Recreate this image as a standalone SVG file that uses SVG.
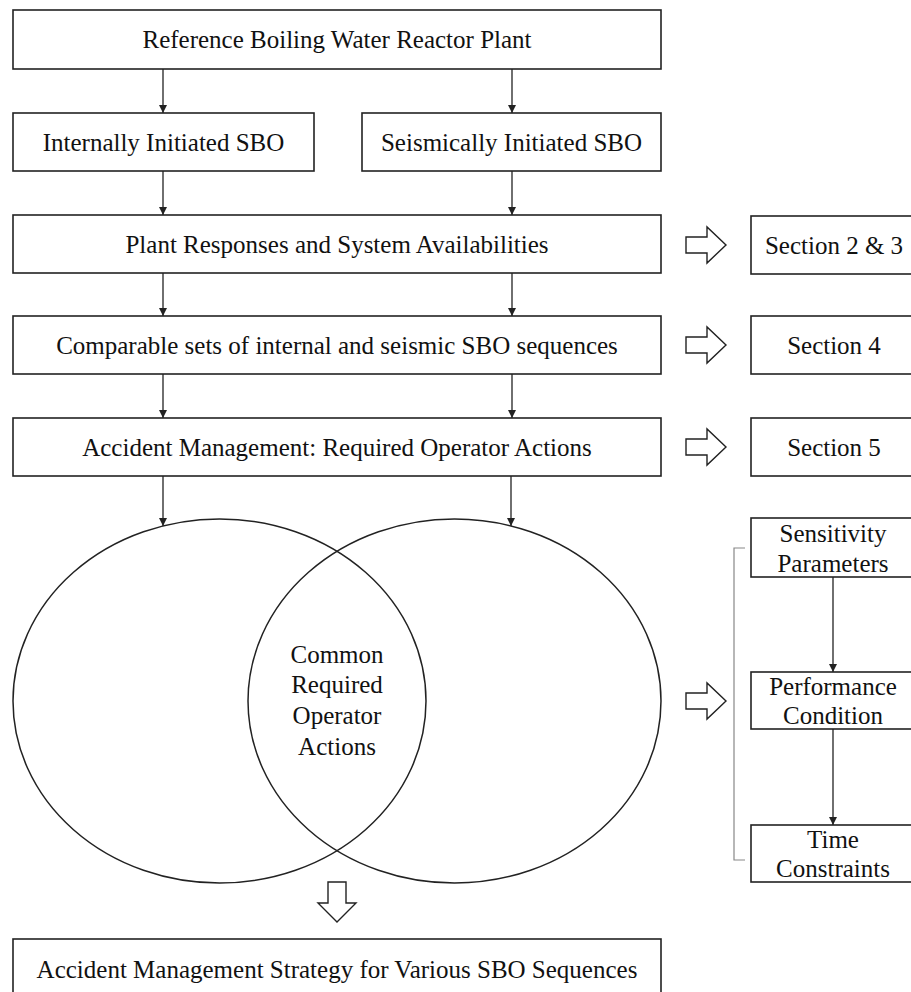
<svg xmlns="http://www.w3.org/2000/svg" width="911" height="992" viewBox="0 0 911 992">
<defs>
<style>
.box{fill:#fff;stroke:#222;stroke-width:1.6}
.t{font-family:'Liberation Serif','Tinos','DejaVu Serif',serif;font-size:25px;fill:#111;text-anchor:middle}
.ln{stroke:#222;stroke-width:1.3;fill:none}
.hol{fill:#fff;stroke:#222;stroke-width:1.4;stroke-linejoin:miter}
.ell{fill:none;stroke:#222;stroke-width:1.5}
.br{fill:none;stroke:#888;stroke-width:1.2}
</style>
<marker id="ah" markerWidth="10" markerHeight="10" refX="8" refY="4" orient="auto" markerUnits="userSpaceOnUse">
<path d="M0,0 L8,4 L0,8 Z" fill="#222"/>
</marker>
</defs>
<rect width="911" height="992" fill="#fff"/>

<g id="n-ref"><rect class="box" x="13" y="10" width="648" height="59"/><text class="t" font-family="Liberation Serif, serif" x="337" y="48">Reference Boiling Water Reactor Plant</text></g>
<g id="n-int"><rect class="box" x="13" y="113" width="301" height="58"/><text class="t" x="163.5" y="150.5">Internally Initiated SBO</text></g>
<g id="n-seis"><rect class="box" x="362" y="113" width="299" height="58"/><text class="t" x="511.5" y="150.5">Seismically Initiated SBO</text></g>
<g id="n-plant"><rect class="box" x="13" y="215" width="648" height="58"/><text class="t" x="337" y="252.5">Plant Responses and System Availabilities</text></g>
<g id="n-comp"><rect class="box" x="13" y="316" width="648" height="58"/><text class="t" x="337" y="353.5">Comparable sets of internal and seismic SBO sequences</text></g>
<g id="n-am"><rect class="box" x="13" y="418" width="648" height="58"/><text class="t" x="337" y="455.5">Accident Management: Required Operator Actions</text></g>

<g id="n-s23"><rect class="box" x="751" y="216" width="170" height="58"/><text class="t" x="834" y="253.5">Section 2 &amp; 3</text></g>
<g id="n-s4"><rect class="box" x="751" y="316" width="170" height="58"/><text class="t" x="834" y="353.5">Section 4</text></g>
<g id="n-s5"><rect class="box" x="751" y="418" width="170" height="58"/><text class="t" x="834" y="455.5">Section 5</text></g>

<g id="n-sens"><rect class="box" x="751" y="518" width="170" height="59"/><text class="t" x="833" y="542">Sensitivity</text><text class="t" x="833" y="572">Parameters</text></g>
<g id="n-perf"><rect class="box" x="751" y="672" width="170" height="57"/><text class="t" x="833" y="695">Performance</text><text class="t" x="833" y="724">Condition</text></g>
<g id="n-time"><rect class="box" x="751" y="825" width="170" height="57"/><text class="t" x="833" y="848">Time</text><text class="t" x="833" y="877">Constraints</text></g>

<g id="n-venn">
<ellipse class="ell" cx="219.5" cy="701" rx="206.5" ry="182"/>
<ellipse class="ell" cx="454.5" cy="701" rx="206.5" ry="182"/>
<text class="t" x="337" y="663">Common</text>
<text class="t" x="337" y="693">Required</text>
<text class="t" x="337" y="724">Operator</text>
<text class="t" x="337" y="755">Actions</text>
</g>

<g id="n-strategy"><rect class="box" x="13" y="939" width="648" height="60"/><text class="t" x="337" y="978">Accident Management Strategy for Various SBO Sequences</text></g>

<g id="connectors">
<line class="ln" x1="163" y1="69" x2="163" y2="113" marker-end="url(#ah)"/>
<line class="ln" x1="512" y1="69" x2="512" y2="113" marker-end="url(#ah)"/>
<line class="ln" x1="163" y1="171" x2="163" y2="215" marker-end="url(#ah)"/>
<line class="ln" x1="512" y1="171" x2="512" y2="215" marker-end="url(#ah)"/>
<line class="ln" x1="163" y1="273" x2="163" y2="316" marker-end="url(#ah)"/>
<line class="ln" x1="512" y1="273" x2="512" y2="316" marker-end="url(#ah)"/>
<line class="ln" x1="163" y1="374" x2="163" y2="418" marker-end="url(#ah)"/>
<line class="ln" x1="512" y1="374" x2="512" y2="418" marker-end="url(#ah)"/>
<line class="ln" x1="163" y1="476" x2="163" y2="526" marker-end="url(#ah)"/>
<line class="ln" x1="511" y1="476" x2="511" y2="526" marker-end="url(#ah)"/>
<line class="ln" x1="833" y1="577" x2="833" y2="672" marker-end="url(#ah)"/>
<line class="ln" x1="833" y1="729" x2="833" y2="825" marker-end="url(#ah)"/>
<path class="hol" d="M686,237 H707 V227 L726,245 L707,263 V253 H686 Z"/>
<path class="hol" d="M686,337 H707 V327 L726,345 L707,363 V353 H686 Z"/>
<path class="hol" d="M686,439 H707 V429 L726,447 L707,465 V455 H686 Z"/>
<path class="hol" d="M686,693 H707 V683 L726,701 L707,719 V709 H686 Z"/>
<path class="hol" d="M328,882 H346 V903 H356 L337,922 L318,903 H328 Z"/>
<path class="br" d="M745,548 H734 V860 H745"/>
</g>
</svg>
